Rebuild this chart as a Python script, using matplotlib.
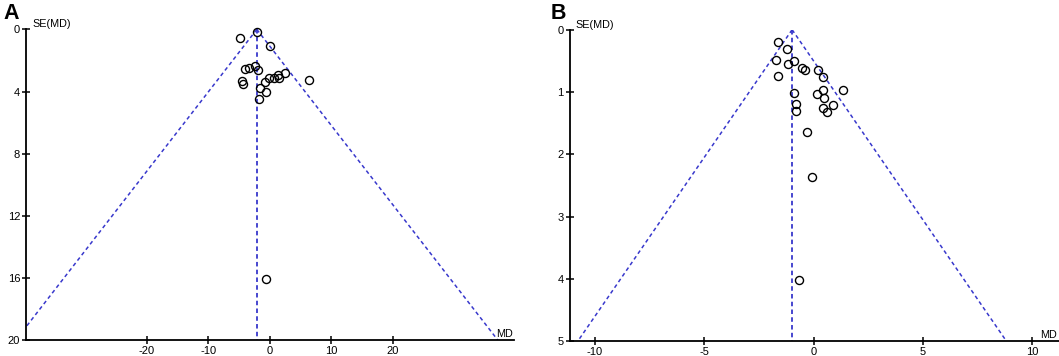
import numpy as np
import matplotlib
matplotlib.use("Agg")
import matplotlib.pyplot as plt

plt.rcParams['font.family'] = ['Liberation Sans', 'DejaVu Sans']

# panel A: mean difference and its standard error per study
md_a = [-4.87, -2.14, 0.06, -4.05, -3.39, -2.40, -1.97, -4.60, -4.44, -0.10,
        -0.76, 0.72, 1.27, 1.48, 2.37, 6.32, -1.69, -0.66, -1.86, -0.66]
se_a = [0.56, 0.17, 1.08, 2.57, 2.50, 2.33, 2.63, 3.30, 3.50, 3.13,
        3.41, 3.15, 2.96, 3.13, 2.83, 3.26, 3.78, 4.03, 4.51, 16.03]
pooled_a = -2.14

# panel B
md_b = [-1.62, -1.23, -1.71, -1.16, -0.91, -0.52, -0.42, 0.19, 0.42, -1.65,
        -0.91, 0.40, 1.33, 0.17, 0.48, -0.82, -0.82, 0.42, 0.86, 0.59,
        -0.31, -0.08, -0.68]
se_b = [0.20, 0.31, 0.49, 0.55, 0.51, 0.61, 0.64, 0.65, 0.76, 0.75,
        1.01, 0.97, 0.96, 1.04, 1.09, 1.19, 1.31, 1.25, 1.21, 1.32,
        1.64, 2.37, 4.02]
pooled_b = -0.99

xticks_a = [-20, -10, 0, 10, 20]
yticks_a = [0, 4, 8, 12, 16, 20]
xticks_b = [-10, -5, 0, 5, 10]
yticks_b = [0, 1, 2, 3, 4, 5]

W, H = 1059, 356
fig = plt.figure(figsize=(W / 100, H / 100), dpi=100)

line_col = '#3838cc'


def funnel(ax, md, se, pooled, se_max, xlim, xticks, yticks, md_pos):
    se_line = np.array([0, se_max])
    ax.plot([pooled, pooled], se_line, color=line_col, lw=1.3, ls=(0, (2.5, 1.8)))
    ax.plot(pooled - 1.96 * se_line, se_line, color=line_col, lw=1.1, ls=(0, (2.5, 2)))
    ax.plot(pooled + 1.96 * se_line, se_line, color=line_col, lw=1.1, ls=(0, (2.5, 2)))
    ax.plot(md, se, 'o', ms=5.8, mfc='none', mec='black', mew=1.0, clip_on=False)
    ax.set_xlim(*xlim)
    ax.set_ylim(se_max, 0)
    ax.set_xticks(xticks)
    ax.set_yticks(yticks)
    ax.set_xticklabels([str(t) for t in xticks])
    ax.spines['top'].set_visible(False)
    ax.spines['right'].set_visible(False)
    for s in ('left', 'bottom'):
        ax.spines[s].set_linewidth(1.3)
    ax.tick_params(direction='inout', length=6, width=1.1, labelsize=8, pad=1.5)
    ax.text(0.012, 1.0, 'SE(MD)', transform=ax.transAxes, fontsize=7.8,
            ha='left', va='bottom')
    ax.text(md_pos, 0.004, 'MD', transform=ax.transAxes, fontsize=7.8,
            ha='left', va='bottom')


ax_a = fig.add_axes([26.4 / W, 1 - 340.2 / H, (513.5 - 26.4) / W, (340.2 - 29.4) / H])
funnel(ax_a, md_a, se_a, pooled_a, 20, (-39.6, 39.6), xticks_a, yticks_a, 0.965)

ax_b = fig.add_axes([569.9 / W, 1 - 341.2 / H, (1058.7 - 569.9) / W, (341.2 - 29.7) / H])
funnel(ax_b, md_b, se_b, pooled_b, 5, (-11.15, 11.2), xticks_b, yticks_b, 0.962)

fig.text(3 / W, 1 - 3 / H, 'A', fontsize=15.5, fontweight='bold', ha='left', va='top')
fig.text(551 / W, 1 - 3 / H, 'B', fontsize=15.5, fontweight='bold', ha='left', va='top')

fig.savefig('out.png', dpi=100)
